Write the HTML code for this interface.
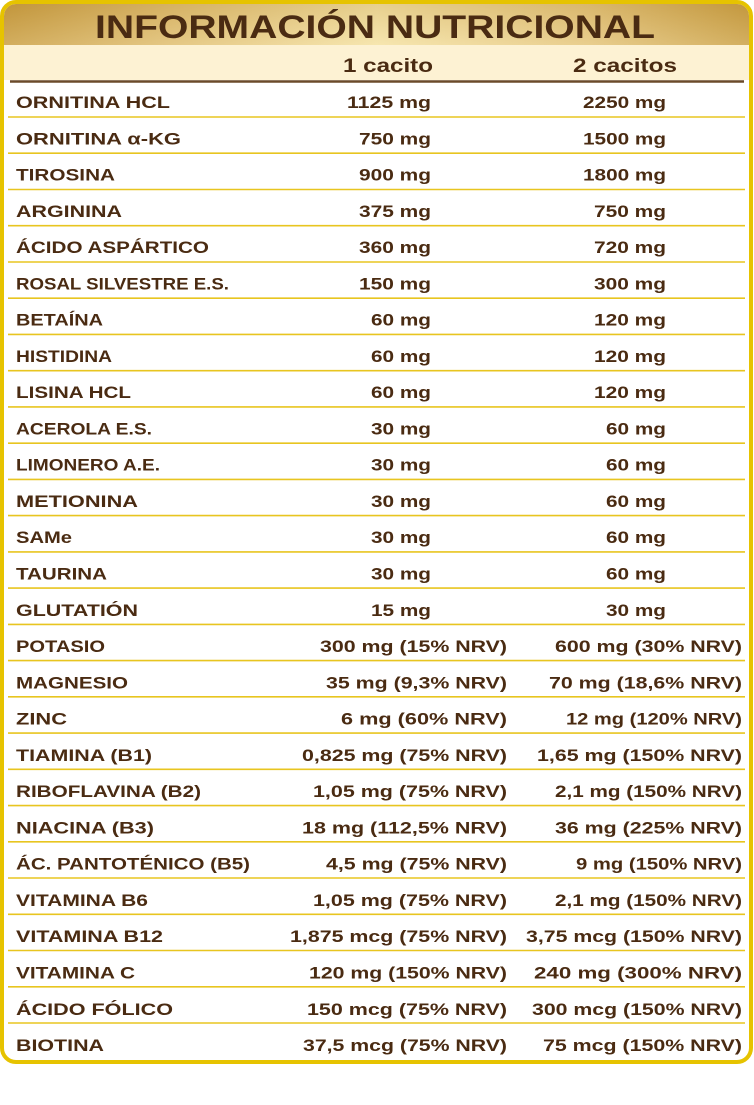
<!DOCTYPE html>
<html><head><meta charset="utf-8"><style>
html,body{margin:0;padding:0;background:#fff;width:754px;height:1105px;overflow:hidden}
svg{display:block}
text{font-family:"Liberation Sans",sans-serif;font-weight:bold;fill:#4a2b12}
</style></head><body>
<svg width="754" height="1105" viewBox="0 0 754 1105" xmlns="http://www.w3.org/2000/svg">
<defs>
<linearGradient id="tg" x1="0" y1="0" x2="1" y2="0">
<stop offset="0" stop-color="#c3963a"/>
<stop offset="0.22" stop-color="#dcba6e"/>
<stop offset="0.5" stop-color="#f4e3a8"/>
<stop offset="0.78" stop-color="#e2c37c"/>
<stop offset="1" stop-color="#c4983c"/>
</linearGradient>
<linearGradient id="tv" x1="0" y1="0" x2="0" y2="1">
<stop offset="0" stop-color="#b88a30" stop-opacity="0.25"/>
<stop offset="1" stop-color="#fff2c8" stop-opacity="0.25"/>
</linearGradient>
<clipPath id="cp"><rect x="4" y="4" width="745" height="1056" rx="12"/></clipPath>
</defs>
<rect x="2" y="2" width="749" height="1060" rx="14" fill="#fff"/>
<g clip-path="url(#cp)">
<rect x="0" y="0" width="754" height="46" fill="url(#tg)"/>
<rect x="0" y="0" width="754" height="46" fill="url(#tv)"/>
<rect x="0" y="45" width="754" height="35" fill="#fdf2d3"/>
</g>
<rect x="2" y="2" width="749" height="1060" rx="14" fill="none" stroke="#e6c300" stroke-width="4"/>
<text x="95" y="38" font-size="32" textLength="560" lengthAdjust="spacingAndGlyphs" fill="#4a280c">INFORMACIÓN NUTRICIONAL</text>
<text x="343" y="72" font-size="19" textLength="90" lengthAdjust="spacingAndGlyphs">1 cacito</text>
<text x="573" y="72" font-size="19" textLength="104" lengthAdjust="spacingAndGlyphs">2 cacitos</text>
<line x1="10" y1="81.5" x2="744" y2="81.5" stroke="#6b4a2a" stroke-width="2.5"/>
<g stroke="#e8c520" stroke-width="1.6">
<line x1="8" y1="117" x2="745" y2="117"/>
<line x1="8" y1="153.2" x2="745" y2="153.2"/>
<line x1="8" y1="189.5" x2="745" y2="189.5"/>
<line x1="8" y1="225.7" x2="745" y2="225.7"/>
<line x1="8" y1="262" x2="745" y2="262"/>
<line x1="8" y1="298.2" x2="745" y2="298.2"/>
<line x1="8" y1="334.4" x2="745" y2="334.4"/>
<line x1="8" y1="370.7" x2="745" y2="370.7"/>
<line x1="8" y1="406.9" x2="745" y2="406.9"/>
<line x1="8" y1="443.2" x2="745" y2="443.2"/>
<line x1="8" y1="479.4" x2="745" y2="479.4"/>
<line x1="8" y1="515.6" x2="745" y2="515.6"/>
<line x1="8" y1="551.9" x2="745" y2="551.9"/>
<line x1="8" y1="588.1" x2="745" y2="588.1"/>
<line x1="8" y1="624.4" x2="745" y2="624.4"/>
<line x1="8" y1="660.6" x2="745" y2="660.6"/>
<line x1="8" y1="696.8" x2="745" y2="696.8"/>
<line x1="8" y1="733.1" x2="745" y2="733.1"/>
<line x1="8" y1="769.3" x2="745" y2="769.3"/>
<line x1="8" y1="805.6" x2="745" y2="805.6"/>
<line x1="8" y1="841.8" x2="745" y2="841.8"/>
<line x1="8" y1="878" x2="745" y2="878"/>
<line x1="8" y1="914.3" x2="745" y2="914.3"/>
<line x1="8" y1="950.5" x2="745" y2="950.5"/>
<line x1="8" y1="986.8" x2="745" y2="986.8"/>
<line x1="8" y1="1023" x2="745" y2="1023"/>
</g>
<g font-size="17" lengthAdjust="spacingAndGlyphs">
<text x="16" y="108" textLength="154" lengthAdjust="spacingAndGlyphs">ORNITINA HCL</text>
<text x="16" y="144.3" textLength="165" lengthAdjust="spacingAndGlyphs">ORNITINA α-KG</text>
<text x="16" y="180.5" textLength="99" lengthAdjust="spacingAndGlyphs">TIROSINA</text>
<text x="16" y="216.8" textLength="106" lengthAdjust="spacingAndGlyphs">ARGININA</text>
<text x="16" y="253.1" textLength="193" lengthAdjust="spacingAndGlyphs">ÁCIDO ASPÁRTICO</text>
<text x="16" y="289.4" textLength="213" lengthAdjust="spacingAndGlyphs">ROSAL SILVESTRE E.S.</text>
<text x="16" y="325.6" textLength="87" lengthAdjust="spacingAndGlyphs">BETAÍNA</text>
<text x="16" y="361.9" textLength="96" lengthAdjust="spacingAndGlyphs">HISTIDINA</text>
<text x="16" y="398.2" textLength="115" lengthAdjust="spacingAndGlyphs">LISINA HCL</text>
<text x="16" y="434.4" textLength="136" lengthAdjust="spacingAndGlyphs">ACEROLA E.S.</text>
<text x="16" y="470.7" textLength="144" lengthAdjust="spacingAndGlyphs">LIMONERO A.E.</text>
<text x="16" y="507" textLength="122" lengthAdjust="spacingAndGlyphs">METIONINA</text>
<text x="16" y="543.2" textLength="56" lengthAdjust="spacingAndGlyphs">SAMe</text>
<text x="16" y="579.5" textLength="91" lengthAdjust="spacingAndGlyphs">TAURINA</text>
<text x="16" y="615.8" textLength="122" lengthAdjust="spacingAndGlyphs">GLUTATIÓN</text>
<text x="16" y="652.1" textLength="89" lengthAdjust="spacingAndGlyphs">POTASIO</text>
<text x="16" y="688.3" textLength="112" lengthAdjust="spacingAndGlyphs">MAGNESIO</text>
<text x="16" y="724.6" textLength="51" lengthAdjust="spacingAndGlyphs">ZINC</text>
<text x="16" y="760.9" textLength="136" lengthAdjust="spacingAndGlyphs">TIAMINA (B1)</text>
<text x="16" y="797.1" textLength="185" lengthAdjust="spacingAndGlyphs">RIBOFLAVINA (B2)</text>
<text x="16" y="833.4" textLength="138" lengthAdjust="spacingAndGlyphs">NIACINA (B3)</text>
<text x="16" y="869.7" textLength="234" lengthAdjust="spacingAndGlyphs">ÁC. PANTOTÉNICO (B5)</text>
<text x="16" y="905.9" textLength="132" lengthAdjust="spacingAndGlyphs">VITAMINA B6</text>
<text x="16" y="942.2" textLength="147" lengthAdjust="spacingAndGlyphs">VITAMINA B12</text>
<text x="16" y="978.5" textLength="119" lengthAdjust="spacingAndGlyphs">VITAMINA C</text>
<text x="16" y="1014.8" textLength="157" lengthAdjust="spacingAndGlyphs">ÁCIDO FÓLICO</text>
<text x="16" y="1051" textLength="88" lengthAdjust="spacingAndGlyphs">BIOTINA</text>
</g>
<g font-size="17" text-anchor="end">
<text x="431" y="108" textLength="84" lengthAdjust="spacingAndGlyphs">1125 mg</text>
<text x="666" y="108" textLength="83" lengthAdjust="spacingAndGlyphs">2250 mg</text>
<text x="431" y="144.3" textLength="72" lengthAdjust="spacingAndGlyphs">750 mg</text>
<text x="666" y="144.3" textLength="83" lengthAdjust="spacingAndGlyphs">1500 mg</text>
<text x="431" y="180.5" textLength="72" lengthAdjust="spacingAndGlyphs">900 mg</text>
<text x="666" y="180.5" textLength="83" lengthAdjust="spacingAndGlyphs">1800 mg</text>
<text x="431" y="216.8" textLength="72" lengthAdjust="spacingAndGlyphs">375 mg</text>
<text x="666" y="216.8" textLength="72" lengthAdjust="spacingAndGlyphs">750 mg</text>
<text x="431" y="253.1" textLength="72" lengthAdjust="spacingAndGlyphs">360 mg</text>
<text x="666" y="253.1" textLength="72" lengthAdjust="spacingAndGlyphs">720 mg</text>
<text x="431" y="289.4" textLength="72" lengthAdjust="spacingAndGlyphs">150 mg</text>
<text x="666" y="289.4" textLength="72" lengthAdjust="spacingAndGlyphs">300 mg</text>
<text x="431" y="325.6" textLength="60" lengthAdjust="spacingAndGlyphs">60 mg</text>
<text x="666" y="325.6" textLength="72" lengthAdjust="spacingAndGlyphs">120 mg</text>
<text x="431" y="361.9" textLength="60" lengthAdjust="spacingAndGlyphs">60 mg</text>
<text x="666" y="361.9" textLength="72" lengthAdjust="spacingAndGlyphs">120 mg</text>
<text x="431" y="398.2" textLength="60" lengthAdjust="spacingAndGlyphs">60 mg</text>
<text x="666" y="398.2" textLength="72" lengthAdjust="spacingAndGlyphs">120 mg</text>
<text x="431" y="434.4" textLength="60" lengthAdjust="spacingAndGlyphs">30 mg</text>
<text x="666" y="434.4" textLength="60" lengthAdjust="spacingAndGlyphs">60 mg</text>
<text x="431" y="470.7" textLength="60" lengthAdjust="spacingAndGlyphs">30 mg</text>
<text x="666" y="470.7" textLength="60" lengthAdjust="spacingAndGlyphs">60 mg</text>
<text x="431" y="507" textLength="60" lengthAdjust="spacingAndGlyphs">30 mg</text>
<text x="666" y="507" textLength="60" lengthAdjust="spacingAndGlyphs">60 mg</text>
<text x="431" y="543.2" textLength="60" lengthAdjust="spacingAndGlyphs">30 mg</text>
<text x="666" y="543.2" textLength="60" lengthAdjust="spacingAndGlyphs">60 mg</text>
<text x="431" y="579.5" textLength="60" lengthAdjust="spacingAndGlyphs">30 mg</text>
<text x="666" y="579.5" textLength="60" lengthAdjust="spacingAndGlyphs">60 mg</text>
<text x="431" y="615.8" textLength="60" lengthAdjust="spacingAndGlyphs">15 mg</text>
<text x="666" y="615.8" textLength="60" lengthAdjust="spacingAndGlyphs">30 mg</text>
<text x="507" y="652.1" textLength="187" lengthAdjust="spacingAndGlyphs">300 mg (15% NRV)</text>
<text x="742" y="652.1" textLength="187" lengthAdjust="spacingAndGlyphs">600 mg (30% NRV)</text>
<text x="507" y="688.3" textLength="181" lengthAdjust="spacingAndGlyphs">35 mg (9,3% NRV)</text>
<text x="742" y="688.3" textLength="193" lengthAdjust="spacingAndGlyphs">70 mg (18,6% NRV)</text>
<text x="507" y="724.6" textLength="166" lengthAdjust="spacingAndGlyphs">6 mg (60% NRV)</text>
<text x="742" y="724.6" textLength="176" lengthAdjust="spacingAndGlyphs">12 mg (120% NRV)</text>
<text x="507" y="760.9" textLength="205" lengthAdjust="spacingAndGlyphs">0,825 mg (75% NRV)</text>
<text x="742" y="760.9" textLength="205" lengthAdjust="spacingAndGlyphs">1,65 mg (150% NRV)</text>
<text x="507" y="797.1" textLength="194" lengthAdjust="spacingAndGlyphs">1,05 mg (75% NRV)</text>
<text x="742" y="797.1" textLength="187" lengthAdjust="spacingAndGlyphs">2,1 mg (150% NRV)</text>
<text x="507" y="833.4" textLength="205" lengthAdjust="spacingAndGlyphs">18 mg (112,5% NRV)</text>
<text x="742" y="833.4" textLength="187" lengthAdjust="spacingAndGlyphs">36 mg (225% NRV)</text>
<text x="507" y="869.7" textLength="181" lengthAdjust="spacingAndGlyphs">4,5 mg (75% NRV)</text>
<text x="742" y="869.7" textLength="166" lengthAdjust="spacingAndGlyphs">9 mg (150% NRV)</text>
<text x="507" y="905.9" textLength="194" lengthAdjust="spacingAndGlyphs">1,05 mg (75% NRV)</text>
<text x="742" y="905.9" textLength="187" lengthAdjust="spacingAndGlyphs">2,1 mg (150% NRV)</text>
<text x="507" y="942.2" textLength="217" lengthAdjust="spacingAndGlyphs">1,875 mcg (75% NRV)</text>
<text x="742" y="942.2" textLength="216" lengthAdjust="spacingAndGlyphs">3,75 mcg (150% NRV)</text>
<text x="507" y="978.5" textLength="198" lengthAdjust="spacingAndGlyphs">120 mg (150% NRV)</text>
<text x="742" y="978.5" textLength="208" lengthAdjust="spacingAndGlyphs">240 mg (300% NRV)</text>
<text x="507" y="1014.8" textLength="200" lengthAdjust="spacingAndGlyphs">150 mcg (75% NRV)</text>
<text x="742" y="1014.8" textLength="210" lengthAdjust="spacingAndGlyphs">300 mcg (150% NRV)</text>
<text x="507" y="1051" textLength="204" lengthAdjust="spacingAndGlyphs">37,5 mcg (75% NRV)</text>
<text x="742" y="1051" textLength="199" lengthAdjust="spacingAndGlyphs">75 mcg (150% NRV)</text>
</g>
</svg>
</body></html>
